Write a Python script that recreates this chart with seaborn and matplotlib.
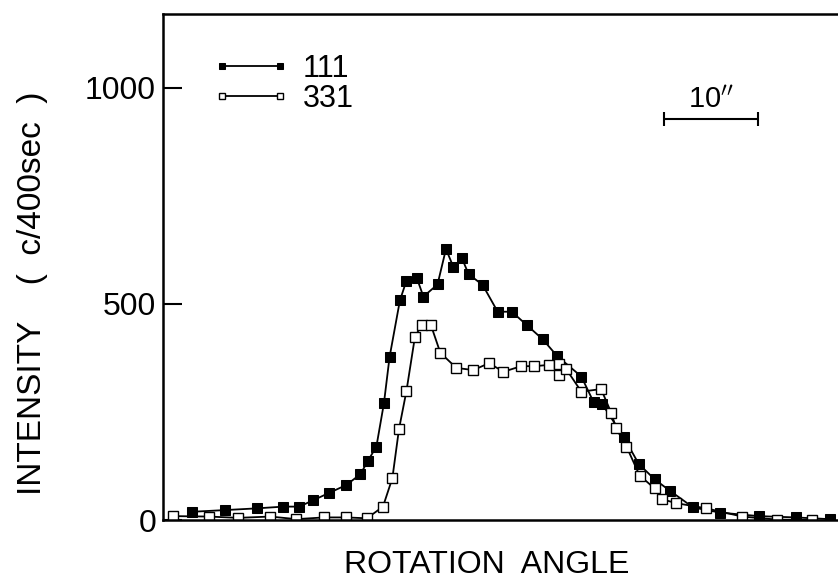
import numpy as np
import pandas as pd
import matplotlib
matplotlib.use("Agg")
import matplotlib.pyplot as plt
import seaborn as sns

# rotation angle in arc seconds (relative), intensity in counts / 400 sec
x_111 = [3.05, 6.6, 10.0, 12.8, 14.5, 16.0, 17.7, 19.5, 21.0, 21.8, 22.7, 23.5, 24.1,
         25.2, 25.9, 27.0, 27.7, 29.2, 30.1, 30.9, 31.8, 32.5, 34.0, 35.6, 37.1, 38.7,
         40.4, 41.9, 44.5, 45.8, 46.7, 49.0, 50.6, 52.3, 53.9, 56.4, 59.3, 63.4, 67.3, 70.9]
y_111 = [19, 23, 27, 31, 31, 46, 63, 81, 106, 137, 170, 270, 377,
         508, 554, 560, 517, 545, 627, 585, 606, 569, 544, 482, 482, 451,
         418, 380, 332, 273, 269, 192, 130, 94, 68, 29, 17, 9, 6, 2]

x_331 = [1.1, 4.9, 8.0, 11.4, 14.2, 17.1, 19.5, 21.7, 23.4, 24.4, 25.1, 25.9, 26.8,
         27.5, 28.5, 29.5, 31.2, 33.0, 34.7, 36.2, 38.1, 39.5, 41.1, 42.1, 42.1, 42.9,
         44.5, 46.6, 47.7, 48.2, 49.3, 50.7, 52.3, 53.1, 54.6, 57.8, 61.6, 65.3, 69.0]
y_331 = [9, 8, 5, 8, 2, 6, 6, 4, 31, 97, 210, 299, 424,
         451, 451, 387, 352, 347, 363, 343, 356, 356, 359, 360, 336, 349,
         297, 303, 247, 212, 170, 103, 73, 48, 39, 27, 8, 1, 0]

series_labels = ["111", "331"]
y_ticks = [0, 500, 1000]
scale_bar = [53.3, 63.3]   # 10 arcsec
scale_bar_y = 928

sns.set_style("white")
plt.rcParams['font.family'] = ['Liberation Sans', 'DejaVu Sans']
plt.rcParams['text.color'] = 'black'
plt.rcParams['axes.labelcolor'] = 'black'
plt.rcParams['ytick.color'] = 'black'

fig = plt.figure(figsize=(8.38, 5.82), dpi=100)
ax = fig.add_axes([0.1945, 0.1065, 0.8055, 0.8695])

df1 = pd.DataFrame({"x": x_111, "y": y_111})
df2 = pd.DataFrame({"x": x_331, "y": y_331})

sns.lineplot(data=df1, x="x", y="y", ax=ax, sort=False, estimator=None,
             color="black", lw=1.3, marker="s", markersize=6.5,
             markerfacecolor="black", markeredgecolor="black", label=series_labels[0])
sns.lineplot(data=df2, x="x", y="y", ax=ax, sort=False, estimator=None,
             color="black", lw=1.3, marker="s", markersize=6.5,
             markerfacecolor="white", markeredgecolor="black", markeredgewidth=1.0,
             label=series_labels[1])

ax.set_xlim(0, 71.8)
ax.set_ylim(0, 1171)
ax.set_xticks([])
ax.set_yticks(y_ticks)
ax.set_yticklabels([str(t) for t in y_ticks], fontsize=23)
ax.tick_params(axis="y", direction="in", length=14, width=1.5, left=True, pad=5,
               labelcolor="black")

for s in ["left", "bottom", "top"]:
    ax.spines[s].set_visible(True)
    ax.spines[s].set_linewidth(1.8)
    ax.spines[s].set_color("black")
ax.spines["right"].set_visible(False)

ax.set_xlabel("ROTATION  ANGLE", fontsize=23, labelpad=20, color="black")
ax.xaxis.set_label_coords(0.479, -0.06, transform=ax.transAxes)
ax.xaxis.label.set_va("top")
ax.set_ylabel("INTENSITY    (  c/400sec  )", fontsize=24, color="black")
ax.yaxis.set_label_coords(-0.17, 0.449, transform=ax.transAxes)

leg = ax.legend(loc="upper left", bbox_to_anchor=(0.055, 0.945), frameon=False,
                fontsize=22, handlelength=2.5, handletextpad=0.45, labelspacing=0.0,
                numpoints=2, markerscale=0.6, borderaxespad=0)
for t in leg.get_texts():
    t.set_color("black")

# scale bar
ax.plot(scale_bar, [scale_bar_y, scale_bar_y], color="black", lw=1.5,
        marker="|", markersize=10, markeredgewidth=1.5)
ax.text(np.mean(scale_bar), scale_bar_y + 12, "10$^{\\prime\\prime}$", ha="center",
        va="bottom", fontsize=21, color="black")

fig.savefig("out.png", dpi=100)
